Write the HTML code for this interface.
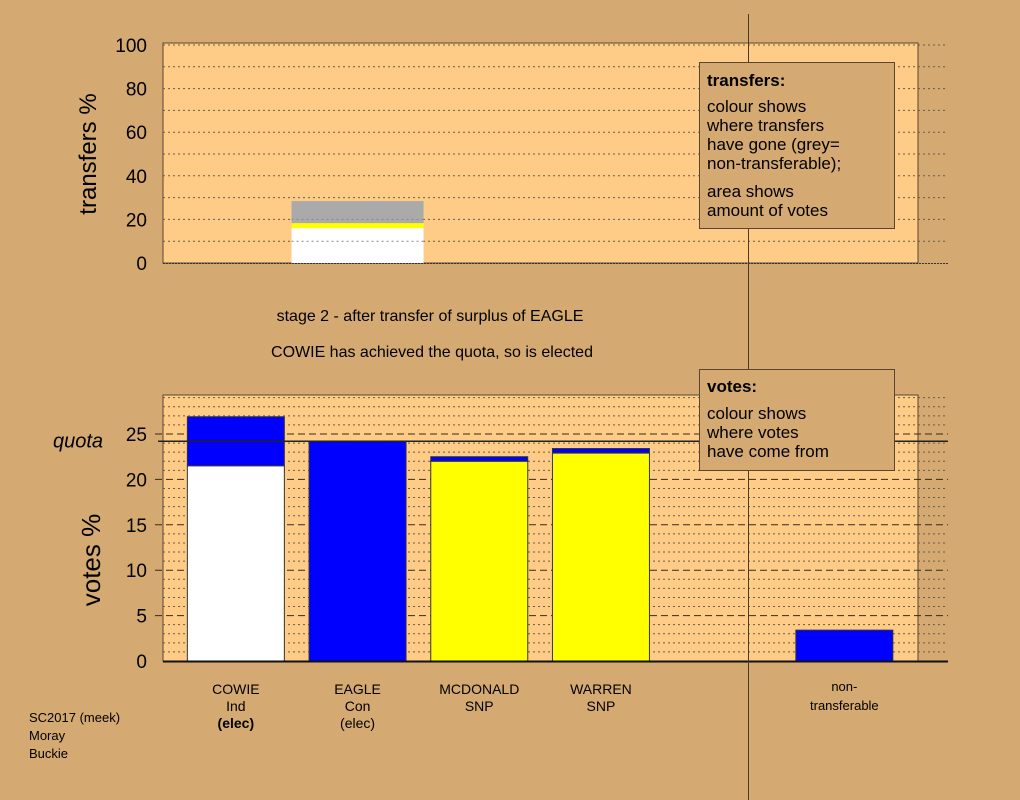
<!DOCTYPE html>
<html><head><meta charset="utf-8"><style>
body{margin:0;background:#d4a972;}
svg{display:block;font-family:"Liberation Sans",Arial,sans-serif;}
</style></head><body>
<svg id="c" width="1020" height="800" xmlns="http://www.w3.org/2000/svg">
<rect x="0" y="0" width="1020" height="800" fill="#d4a972"/>
<g id="topchart"></g>
<g id="botchart"></g>
<line x1="748.5" y1="14" x2="748.5" y2="800" stroke="#4a3a28" stroke-width="1"/>
<g>
<rect x="699.5" y="62.5" width="195" height="166" fill="#d4a972" stroke="#5a4630"/>
<text x="707" y="86" font-size="17" font-weight="bold">transfers:</text>
<text font-size="17"><tspan x="707" y="112">colour shows</tspan><tspan x="707" y="131">where transfers</tspan><tspan x="707" y="150">have gone (grey=</tspan><tspan x="707" y="169">non-transferable);</tspan><tspan x="707" y="197">area shows</tspan><tspan x="707" y="216">amount of votes</tspan></text>
</g>
<g>
<rect x="699.5" y="369.5" width="195" height="101" fill="#d4a972" stroke="#5a4630"/>
<text x="707" y="392" font-size="17" font-weight="bold">votes:</text>
<text font-size="17"><tspan x="707" y="419">colour shows</tspan><tspan x="707" y="438">where votes</tspan><tspan x="707" y="457">have come from</tspan></text>
</g>
<text x="430" y="321" font-size="16" text-anchor="middle">stage 2 - after transfer of surplus of EAGLE</text>
<text x="432" y="357" font-size="16" text-anchor="middle">COWIE has achieved the quota, so is elected</text>
<text font-size="13"><tspan x="29" y="722">SC2017 (meek)</tspan><tspan x="29" y="740">Moray</tspan><tspan x="29" y="758">Buckie</tspan></text>
</svg>
<script>
const categories=["COWIE","EAGLE","MCDONALD","WARREN","","non-transferable"];
const catLine2=["Ind","Con","SNP","SNP","",""];
const catLine3=["(elec)","(elec)","","","",""];
const votesOwn=[21.5,24.2,22.0,22.9,0,0];
const votesTransfer=[5.4,0,0.5,0.5,0,3.4];
const ownColors=["#ffffff","#0000ff","#ffff00","#ffff00","#ffffff","#0000ff"];
const quota=24.2;
const votesTicks=[0,5,10,15,20,25];
const transferTicks=[0,20,40,60,80,100];
const transferSegments=[16.0,2.3,10.1];
const transferColors=["#ffffff","#ffff00","#aaaaaa"];
const transferFrom=1;

const NS="http://www.w3.org/2000/svg";
function mk(p,t,a){const e=document.createElementNS(NS,t);for(const k in a)e.setAttribute(k,a[k]);p.appendChild(e);return e;}
const slotX0=175,slotW=121.7;
const xc=i=>slotX0+slotW*i+slotW/2;
const L=163,R=918,G=948;

// top chart
const topG=document.getElementById('topchart');
const yT=v=>263-v*2.18;
const r1=mk(topG,'rect',{x:L,y:43,width:R-L,height:220,fill:'#ffcc88',stroke:'#5a4630'});


for(let v=10;v<=100;v+=10){const l=mk(topG,'line',{x1:L,x2:G,y1:yT(v),y2:yT(v),stroke:'#6a5a48','stroke-dasharray':'2,3','stroke-width':1});

}
let acc=0;
transferSegments.forEach((s,i)=>{const r=mk(topG,'rect',{x:xc(transferFrom)-66,y:yT(acc+s),width:132,height:s*2.18,fill:transferColors[i]});

acc+=s;});
for(let v=10;v<acc;v+=10){mk(topG,'line',{x1:xc(transferFrom)-66,x2:xc(transferFrom)+66,y1:yT(v),y2:yT(v),stroke:'#888','stroke-dasharray':'2,3'});}
mk(topG,'line',{x1:L,x2:G,y1:263.5,y2:263.5,stroke:'#333','stroke-dasharray':'2,1'});
transferTicks.forEach(v=>{const t=mk(topG,'text',{x:147,y:yT(v)+7,'font-size':19,'text-anchor':'end'});t.textContent=v;

});
const tt=mk(topG,'text',{x:0,y:0,'font-size':24,'text-anchor':'middle',transform:'translate(96,154) rotate(-90)'});tt.textContent='transfers %';



// bottom chart
const botG=document.getElementById('botchart');
const yB=v=>661-v*9.08;
const r2=mk(botG,'rect',{x:L,y:395,width:R-L,height:266,fill:'#ffcc88',stroke:'#5a4630'});


for(let v=1;v<=29;v++){const major=v%5===0;const l=mk(botG,'line',{x1:major?L-8:L,x2:G,y1:yB(v),y2:yB(v),stroke:major?'#3a2a18':'#6a5a48','stroke-dasharray':major?'7,4':'2,3','stroke-width':1});

}
categories.forEach((c,i)=>{
 const x=xc(i)-48.5;
 if(votesOwn[i]>0){const b=mk(botG,'rect',{x:x,y:yB(votesOwn[i]),width:97,height:votesOwn[i]*9.08,fill:ownColors[i],stroke:'#333','stroke-width':1});
 
 }
 if(votesTransfer[i]>0){const b=mk(botG,'rect',{x:x,y:yB(votesOwn[i]+votesTransfer[i]),width:97,height:votesTransfer[i]*9.08,fill:'#0000ff',stroke:'#333','stroke-width':1});
 
 }
 const lines=i===5?["non-","transferable"]:[c,catLine2[i],catLine3[i]];
 lines.forEach((s,j)=>{if(!s)return;const t=mk(botG,'text',{x:xc(i),y:(i===5?691:694)+j*(i===5?19:17),'font-size':i===5?13:14,'text-anchor':'middle','font-weight':(i===0&&j===2)?'bold':'normal'});t.textContent=s;
 
 });
});
const q=mk(botG,'line',{x1:158,x2:G,y1:yB(quota),y2:yB(quota),stroke:'#222','stroke-width':1.5});


const ql=mk(botG,'text',{x:53,y:yB(quota)+6,'font-size':20,'font-style':'italic'});ql.textContent='quota';


mk(botG,'line',{x1:L,x2:G,y1:661.5,y2:661.5,stroke:'#111','stroke-width':2});
votesTicks.forEach(v=>{const t=mk(botG,'text',{x:147,y:yB(v)+7,'font-size':19,'text-anchor':'end'});t.textContent=v;

});
const vt=mk(botG,'text',{x:0,y:0,'font-size':26,'text-anchor':'middle',transform:'translate(100,560) rotate(-90)'});vt.textContent='votes %';


</script>
</body></html>
